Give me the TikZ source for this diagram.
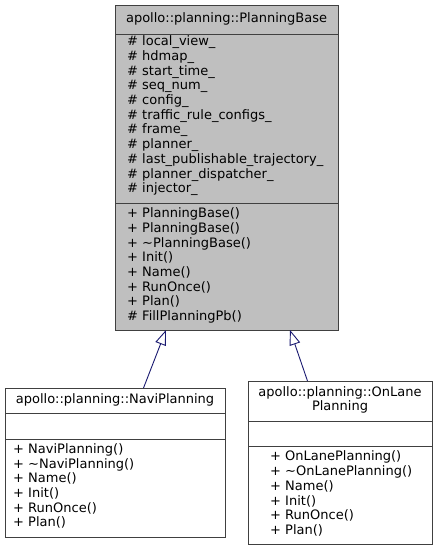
\documentclass[tikz,border=0pt]{standalone}
\usepackage{fontspec}
\setmainfont{DejaVu Sans}
\usetikzlibrary{arrows.meta}
\definecolor{edgeblue}{HTML}{191970}
\definecolor{boxgray}{HTML}{BFBFBF}
\definecolor{boxline}{HTML}{404040}
\tikzset{
  box/.style={draw=boxline, line width=1pt, inner sep=0pt, anchor=north west},
  sep/.style={draw=boxline, line width=1pt},
  txt/.style={inner sep=0pt, anchor=mid west, font=\fontsize{13}{14.7}\selectfont},
  ttl/.style={inner sep=0pt, anchor=mid, font=\fontsize{13}{14.7}\selectfont},
  inherit/.style={draw=edgeblue, line width=0.9pt, -{Triangle[open, length=15pt, width=11pt, fill=white]}}
}
\begin{document}
\begin{tikzpicture}[x=1pt, y=-1pt]
\useasboundingbox (0,0) rectangle (437,551);
% Base box
\node[box, fill=boxgray, minimum width=223pt, minimum height=325pt] (base) at (115,5) {};
\draw[sep] (115,35) -- (338,35);
\draw[sep] (115,203) -- (338,203);
\node[ttl] (baset) at (226.5,20) {apollo::planning::PlanningBase};
\foreach \t [count=\i from 0] in {local\_view\_, hdmap\_, start\_time\_, seq\_num\_, config\_, traffic\_rule\_configs\_, frame\_, planner\_, last\_publishable\_trajectory\_, planner\_dispatcher\_, injector\_}
  \node[txt] (ba\i) at (127,{43+14.7*\i}) {\# \t};
\foreach \t [count=\i from 0] in {+ PlanningBase(), + PlanningBase(), + \textasciitilde PlanningBase(), + Init(), + Name(), + RunOnce(), + Plan(), \# FillPlanningPb()}
  \node[txt] (bm\i) at (127,{215+14.7*\i}) {\t};
% Navi box
\node[box, fill=white, minimum width=220pt, minimum height=149pt] (navi) at (5,388) {};
\draw[sep] (5,413) -- (225,413);
\draw[sep] (5,439) -- (225,439);
\node[ttl] (navit) at (115,400.5) {apollo::planning::NaviPlanning};
\foreach \t [count=\i from 0] in {+ NaviPlanning(), + \textasciitilde NaviPlanning(), + Name(), + Init(), + RunOnce(), + Plan()}
  \node[txt] (nm\i) at (13,{451+14.6*\i}) {\t};
% OnLane box
\node[box, fill=white, minimum width=184pt, minimum height=163pt] (onlane) at (248,381) {};
\draw[sep] (248,421) -- (432,421);
\draw[sep] (248,446) -- (432,446);
\node[ttl] (onlanet1) at (340,394) {apollo::planning::OnLane};
\node[ttl] (onlanet2) at (340,408) {Planning};
\foreach \t [count=\i from 0] in {+ OnLanePlanning(), + \textasciitilde OnLanePlanning(), + Name(), + Init(), + RunOnce(), + Plan()}
  \node[txt] (om\i) at (270,{458+14.8*\i}) {\t};
% connectors
\coordinate (tipL) at (166,330);
\coordinate (tipR) at (290,330);
\coordinate (naviin) at (143.5,388);
\coordinate (onlanein) at (307.5,381);
\draw[inherit] (naviin) -- (tipL);
\draw[inherit] (onlanein) -- (tipR);
\end{tikzpicture}
\end{document}
